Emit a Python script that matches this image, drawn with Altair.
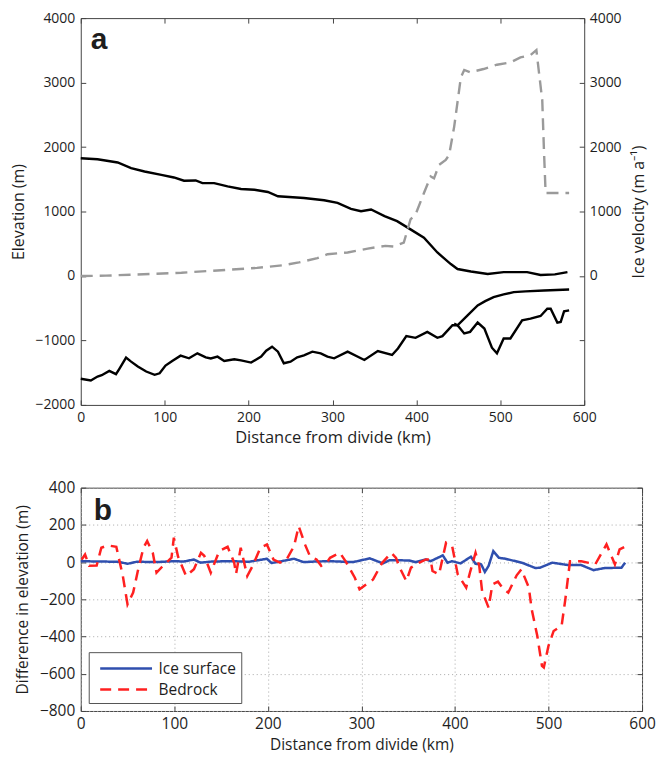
import altair as alt
import pandas as pd

# ---------------- Panel a data ----------------
surf_km = [0, 20, 44, 60, 76, 96, 111, 123, 137, 145, 159, 175, 191, 207, 223, 235, 266, 290, 306, 322,
           334, 346, 362, 377, 393, 409, 425, 441, 449, 465, 485, 504, 532, 548, 565, 580]
surf_elev = [1826, 1810, 1760, 1672, 1620, 1569, 1528, 1477, 1482, 1441, 1441, 1390, 1349, 1338, 1303, 1236,
             1210, 1174, 1133, 1041, 1005, 1031, 928, 851, 723, 595, 364, 185, 108, 70, 31, 60, 60, 15, 25, 60]

bed_km = [0, 12, 20, 25, 34, 42, 46, 54, 60, 68, 78, 88, 94, 101, 109, 119, 129, 139, 149, 155, 163, 171,
          183, 191, 203, 215, 221, 228, 235, 242, 250, 258, 266, 276, 286, 294, 302, 318, 338, 354, 371, 378,
          388, 399, 413, 425, 431, 443, 449, 457, 464, 473, 481, 490, 496, 504, 512, 526, 536, 548, 556, 560,
          568, 572, 576, 582]
bed_elev = [-1595, -1620, -1560, -1540, -1472, -1523, -1440, -1266, -1328, -1405, -1482, -1533, -1510, -1390,
            -1318, -1236, -1277, -1200, -1262, -1280, -1251, -1318, -1292, -1310, -1343, -1251, -1160, -1097,
            -1174, -1354, -1330, -1262, -1230, -1174, -1200, -1251, -1277, -1174, -1303, -1164, -1226, -1124,
            -933, -959, -867, -959, -933, -764, -764, -892, -867, -723, -815, -1113, -1200, -969, -969, -687,
            -662, -620, -508, -508, -723, -713, -549, -533]

shelf_km = [445, 449, 461, 473, 482, 492, 504, 516, 530, 552, 582]
shelf_elev = [-740, -764, -610, -457, -390, -328, -285, -251, -238, -226, -210]

vel_km = [0, 30, 60, 90, 120, 150, 180, 210, 240, 260, 282, 294, 318, 342, 363, 373, 385, 393, 399, 409,
          417, 421, 427, 435, 439, 445, 453, 457, 464, 480, 496, 512, 524, 536, 543, 545, 550, 552, 554,
          572, 582]
vel_ma = [0, 5, 20, 35, 50, 75, 100, 125, 165, 210, 277, 338, 364, 425, 467, 456, 518, 877, 954, 1287,
          1543, 1515, 1723, 1800, 1877, 2313, 3082, 3195, 3159, 3210, 3277, 3313, 3390, 3426, 3503, 3277,
          2723, 1954, 1287, 1287, 1287]

# ---------------- Panel b data ----------------
ice_km = [0, 20, 40, 50, 60, 80, 100, 110, 121, 128, 140, 160, 180, 199, 204, 215, 228, 238, 250, 266,
          291, 309, 323, 330, 351, 358, 369, 374, 387, 392, 397, 406, 417, 422, 428, 432, 436, 441, 447,
          454, 472, 486, 491, 504, 521, 535, 548, 560, 578, 582]
ice_diff = [5, 3, 2, -9, 2, 0, 5, 3, 14, -3, 3, 5, 2, 18, -5, 5, 18, 0, 3, 5, 0, 20, -7, 10, 9, 0, 14, 5,
            36, -3, 5, -7, 29, -9, -12, -53, -20, 59, 23, 18, -4, -32, -30, -3, -16, -16, -43, -32, -30, -3]

rock_km = [1, 4.6, 9, 17, 22, 29, 38, 45, 50, 56, 61, 67, 71, 77, 81, 87, 97, 99.5, 104, 112.6,
           121, 128.5, 132, 139, 148, 157, 164, 166, 171, 178, 184, 192, 199, 206, 213, 220, 228, 233, 240,
           245, 252, 257, 264, 266.5, 277, 283, 293, 298, 312.5, 322, 332, 337, 341, 348, 353, 362, 369,
           374, 376, 383, 390.5, 397, 403, 412, 416, 422, 426, 429, 436, 440, 446, 452, 457, 466, 471, 479,
           482, 488, 493, 495, 500, 505.5, 514, 518, 523, 535, 550, 562, 571, 576, 581.5]
rock_diff = [14, 41, -20, -18, 77, 90, 82, -75, -227, -164, -48, 77, 113, 50, -57, -25, 24, 131, 30, -75,
             -38, 50, 34, -57, 59, 82, -3, -64, 77, -75, -18, 77, 95, 14, -3, 14, 86, 193, 91, 32,
             14, -20, 5, 23, 50, 5, -84, -146, -93, -5, 50, 23, -30, -102, -30, -3, 14, 14, -48, -66,
             104, 86, -66, -137, -57, 50, -20, -155, -245, -120, -105, -146, -164, -71, -39, -137, -253,
             -396, -557, -566, -450, -370, -343, -200, 5, 5, -12, 95, -12, 68, 82]

x_ticks = [0, 100, 200, 300, 400, 500, 600]
ya_ticks = [-2000, -1000, 0, 1000, 2000, 3000, 4000]
yb_ticks = [-800, -600, -400, -200, 0, 200, 400]
series_b = ["Ice surface", "Bedrock"]

FONT = "Open Sans"
TXT = "#1e1e1e"


def ax(**kw):
    base = dict(offset=-5, tickSize=5, domain=False, tickColor="#444", tickWidth=1, format="d",
                labelFont=FONT, labelFontSize=14, labelColor=TXT, labelFlush=False, labelOverlap=False,
                titleFont=FONT, titleFontSize=15, titleFontWeight="normal", titleColor=TXT, grid=False)
    base.update(kw)
    return alt.Axis(**base)


# ---------------- Panel a ----------------
df_a = pd.concat([
    pd.DataFrame({"series": "surface", "km": surf_km, "elev": surf_elev}),
    pd.DataFrame({"series": "bed", "km": bed_km, "elev": bed_elev}),
    pd.DataFrame({"series": "shelf", "km": shelf_km, "elev": shelf_elev}),
])
df_v = pd.DataFrame({"km": vel_km, "vel": vel_ma})

xa = alt.Scale(domain=[0, 600], nice=False)
ya = alt.Scale(domain=[-2000, 4000], nice=False)

lines_a = alt.Chart(df_a).mark_line(color="black", strokeWidth=2.4).encode(
    x=alt.X("km:Q", scale=xa, axis=ax(values=x_ticks, title="Distance from divide (km)",
                                      labelPadding=6, titlePadding=5, titleFontSize=16.5)),
    y=alt.Y("elev:Q", scale=ya, axis=ax(values=ya_ticks, title="Elevation (m)",
                                        labelPadding=6, titlePadding=8, titleFontSize=16)),
    detail="series:N",
)
vel_a = alt.Chart(df_v).mark_line(color="#9a9a9a", strokeWidth=2.4, strokeDash=[12, 7]).encode(
    x=alt.X("km:Q", scale=xa, axis=ax(orient="top", values=x_ticks, labels=False, title=None)),
    y=alt.Y("vel:Q", scale=ya, axis=ax(orient="right", values=ya_ticks,
                                       labelExpr="datum.value >= 0 ? datum.label : ''",
                                       title="Ice velocity (m a⁻¹)", titleAngle=270, titleBaseline="top",
                                       titleFontSize=16, labelPadding=5, titlePadding=9)),
)
lab_a = alt.Chart(pd.DataFrame({"t": ["a"]})).mark_text(
    font="Liberation Sans", fontWeight="bold", fontSize=30, align="left", baseline="alphabetic", color=TXT
).encode(x=alt.value(10), y=alt.value(31), text="t:N")

panel_a = alt.layer(lines_a, vel_a, lab_a).resolve_scale(
    x="independent", y="independent").resolve_axis(x="independent", y="independent").properties(
    width=505, height=388)

# ---------------- Panel b ----------------
df_b = pd.concat([
    pd.DataFrame({"series": "Ice surface", "km": ice_km, "diff": ice_diff}),
    pd.DataFrame({"series": "Bedrock", "km": rock_km, "diff": rock_diff}),
])
df_r = pd.DataFrame({"km": rock_km, "diff": rock_diff})

xb = alt.Scale(domain=[0, 600], nice=False)
yb = alt.Scale(domain=[-800, 400], nice=False)
gridkw = dict(grid=True, gridColor="#a8a8a8", gridDash=[1, 3], gridWidth=1)

leg = alt.Legend(title=None, orient="bottom-left", offset=8, padding=5, fillColor="white",
                 strokeColor="#555", labelFont=FONT, labelFontSize=15.5, labelColor=TXT,
                 symbolType="M-0.5,0L4.7,0", symbolSize=400, symbolStrokeWidth=2.5,
                 labelOffset=42, rowPadding=1)

lines_b = alt.Chart(df_b).mark_line(strokeWidth=2.5).encode(
    x=alt.X("km:Q", scale=xb, axis=ax(values=x_ticks, title="Distance from divide (km)",
                                      labelFontSize=15.5, labelPadding=6, titlePadding=5,
                                      titleFontSize=15.5, **gridkw)),
    y=alt.Y("diff:Q", scale=yb, axis=ax(values=yb_ticks, title="Difference in elevation (m)",
                                        labelFontSize=15.5, labelPadding=6, titlePadding=9,
                                        titleFontSize=15.5, **gridkw)),
    color=alt.Color("series:N", scale=alt.Scale(domain=series_b, range=["#2f4fae", "#ff2020"]), legend=leg),
    strokeDash=alt.StrokeDash("series:N", scale=alt.Scale(domain=series_b, range=[[1, 0], [11, 7]]),
                              legend=leg),
)
frame_b = alt.Chart(df_r).mark_point(opacity=0).encode(
    x=alt.X("km:Q", scale=xb, axis=ax(orient="top", values=x_ticks, labels=False, title=None)),
    y=alt.Y("diff:Q", scale=yb, axis=ax(orient="right", values=yb_ticks, labels=False, title=None)),
)
lab_b = alt.Chart(pd.DataFrame({"t": ["b"]})).mark_text(
    font="Liberation Sans", fontWeight="bold", fontSize=30, align="left", baseline="alphabetic", color=TXT
).encode(x=alt.value(13), y=alt.value(32), text="t:N")

panel_b = alt.layer(lines_b, frame_b, lab_b).resolve_scale(
    x="independent", y="independent").resolve_axis(x="independent", y="independent").properties(
    width=563, height=224)

chart = alt.vconcat(panel_a, panel_b, spacing=33).resolve_scale(
    color="independent", strokeDash="independent").properties(
    padding={"left": 10, "top": 9, "right": 0, "bottom": 0},
    background="white",
).configure_view(stroke="#444", strokeWidth=1)

chart.save("out.html", embed_options={"renderer": "svg", "actions": False})
